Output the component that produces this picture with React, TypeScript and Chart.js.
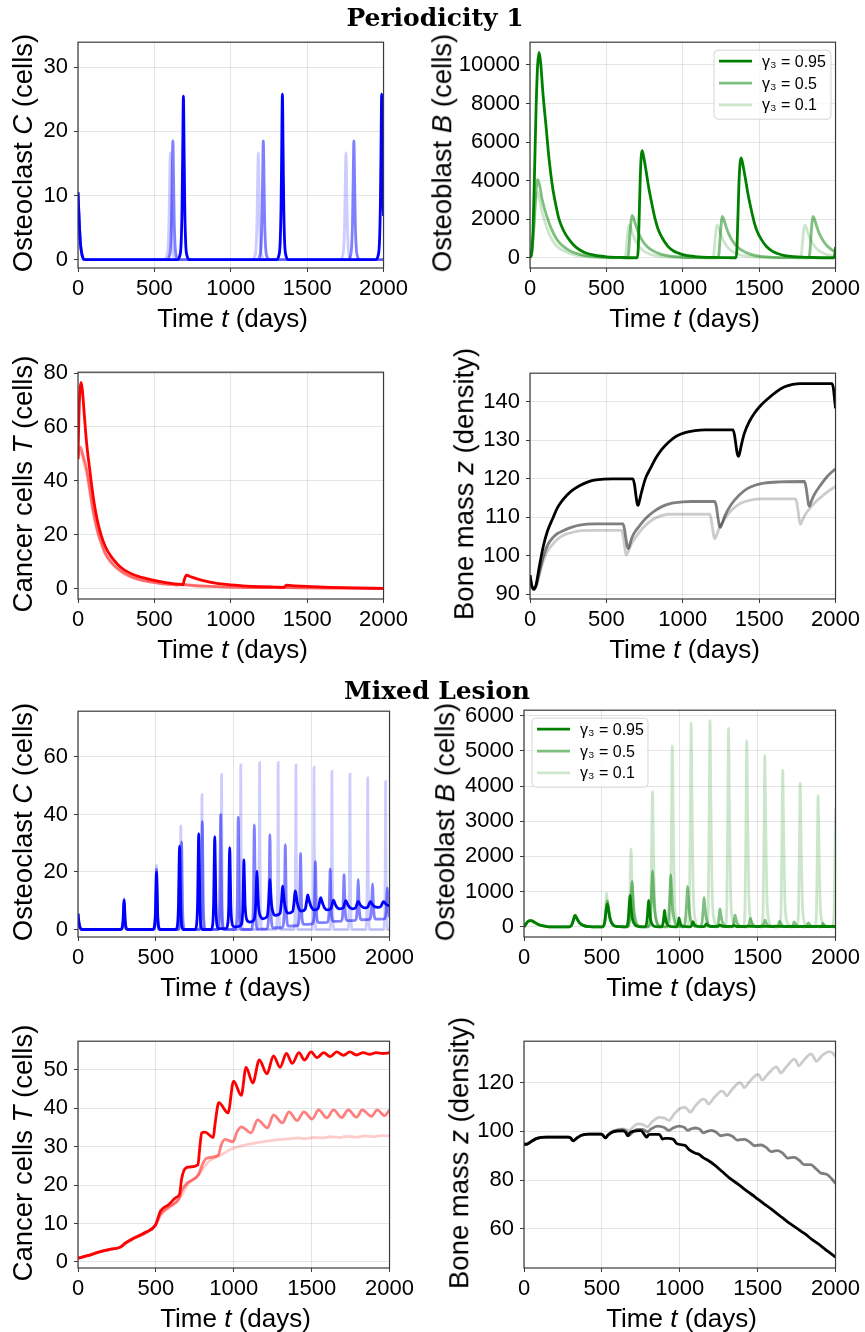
import React, { useEffect, useRef } from "react";
import { Chart, registerables } from "chart.js";

Chart.register(...registerables);

type Pt = [number, number];

// ---------- shared labels / ticks ----------
const GAMMA_LABELS = ["γ₃ = 0.95", "γ₃ = 0.5", "γ₃ = 0.1"];
const ALPHAS = [1, 0.5, 0.2];
const X_TICKS = [0, 500, 1000, 1500, 2000];
const SECTION_TITLES = ["Periodicity 1", "Mixed Lesion"];

// ---------- Periodicity 1 : Osteoclast C ----------
const P1_C_HI: Pt[] = [[0,10.5],[8,6],[16,2.5],[28,0.6],[45,0],
  [650,0],[665,0.5],[675,2.5],[681,8],[685,16],[690,25.5],[695,16],[699,8],[705,2.5],[715,0.5],[730,0],
  [1298,0],[1313,0.5],[1323,2.5],[1329,8],[1333,16],[1338,25.8],[1343,16],[1347,8],[1353,2.5],[1363,0.5],[1378,0],
  [1948,0],[1963,0.5],[1973,2.5],[1979,8],[1983,16],[1988,25.8],[1993,16],[1996.5,9],[2000,6.8]];
const P1_C_MID: Pt[] = [[0,10.5],[8,6],[16,2.5],[28,0.6],[45,0],
  [581,0],[596,0.4],[606,2],[612,6],[616,12],[621,18.5],[626,12],[630,6],[636,2],[646,0.4],[661,0],
  [1173,0],[1188,0.4],[1198,2],[1204,6],[1208,12],[1213,18.5],[1218,12],[1222,6],[1228,2],[1238,0.4],[1253,0],
  [1766,0],[1781,0.4],[1791,2],[1797,6],[1801,12],[1806,18.5],[1811,12],[1815,6],[1821,2],[1831,0.4],[1846,0],[2000,0]];
const P1_C_LO: Pt[] = [[0,10.5],[8,6],[16,2.5],[28,0.6],[45,0],
  [564,0],[579,0.4],[589,1.8],[595,5.5],[599,11],[604,16.7],[609,11],[613,5.5],[619,1.8],[629,0.4],[644,0],
  [1140,0],[1155,0.4],[1165,1.8],[1171,5.5],[1175,11],[1180,16.7],[1185,11],[1189,5.5],[1195,1.8],[1205,0.4],[1220,0],
  [1714,0],[1729,0.4],[1739,1.8],[1745,5.5],[1749,11],[1754,16.7],[1759,11],[1763,5.5],[1769,1.8],[1779,0.4],[1794,0],[2000,0]];

// ---------- Periodicity 1 : Osteoblast B ----------
const P1_B_HI: Pt[] = [[0,0],[10,200],[20,1500],[30,4500],[40,7800],[50,10000],[60,10650],[70,10100],[85,8500],[104,6900],[125,5100],[147,3700],[170,2700],[190,2000],[220,1400],[260,900],[300,550],[350,300],[420,130],[500,50],[600,12],[702,0],
  [708,400],[715,2200],[722,4200],[728,5250],[734,5550],[745,5200],[760,4500],[778,3600],[800,2700],[821,1950],[840,1450],[864,1050],[900,620],[940,350],[972,240],[1020,120],[1080,60],[1200,15],[1348,0],
  [1354,380],[1361,2100],[1368,3900],[1375,4900],[1382,5180],[1393,4850],[1408,4200],[1426,3350],[1448,2500],[1469,1800],[1488,1350],[1512,980],[1548,580],[1588,330],[1620,220],[1668,110],[1728,55],[1850,12],[1990,0],[1995,150],[2000,550]];
const P1_B_MID: Pt[] = [[0,0],[12,300],[25,1600],[38,3300],[50,4050],[62,3800],[80,3000],[108,2200],[140,1500],[180,900],[216,600],[270,320],[324,180],[400,70],[500,20],[600,3],[640,0],
  [646,300],[653,1100],[660,1800],[668,2200],[676,2100],[690,1750],[710,1300],[735,900],[765,600],[800,380],[850,200],[920,80],[1000,25],[1100,5],[1232,0],
  [1238,300],[1245,1100],[1252,1800],[1258,2150],[1266,2050],[1280,1700],[1300,1250],[1325,880],[1355,580],[1390,370],[1440,190],[1510,75],[1600,20],[1700,5],[1826,0],
  [1832,300],[1839,1100],[1846,1800],[1852,2150],[1860,2050],[1874,1700],[1894,1250],[1919,880],[1949,580],[1984,370],[2000,310]];
const P1_B_LO: Pt[] = [[0,0],[12,250],[25,1400],[38,2900],[48,3400],[58,3200],[75,2500],[100,1800],[130,1150],[170,650],[216,380],[270,200],[330,90],[420,25],[520,0],
  [622,0],[628,250],[635,900],[642,1450],[649,1700],[657,1600],[671,1260],[691,870],[716,560],[746,340],[786,180],[840,80],[920,20],[1000,0],
  [1198,0],[1204,250],[1211,900],[1218,1450],[1225,1700],[1233,1600],[1247,1260],[1267,870],[1292,560],[1322,340],[1362,180],[1416,80],[1496,20],[1580,0],
  [1772,0],[1778,250],[1785,900],[1792,1450],[1799,1700],[1807,1600],[1821,1260],[1841,870],[1866,560],[1896,340],[1936,180],[1990,80],[2000,70]];

// ---------- Periodicity 1 : Cancer cells T ----------
const P1_T_HI: Pt[] = [[0,48],[6,64],[12,73],[20,76.5],[28,74],[38,67],[50,58],[62,51],[75,45],[90,38],[108,31],[128,25],[151,20],[180,15.5],[216,12],[260,9],[302,7],[360,5.3],[431,4],[539,2.6],[620,1.9],[688,1.5],[694,3],[703,4.5],[712,5],[740,4.4],[800,3.3],[863,2.5],[950,1.7],[1078,1.1],[1200,0.75],[1294,0.6],[1348,0.5],[1356,1.0],[1368,1.3],[1420,1.1],[1500,0.85],[1650,0.5],[1800,0.3],[2000,0.15]];
const P1_T_MID: Pt[] = [[0,49],[8,52],[17,52.5],[28,50.5],[40,48],[54,45],[75,37.9],[90,32],[108,26.4],[128,21.5],[151,17.3],[180,13],[216,10],[260,7.5],[302,5.8],[360,4.2],[431,3],[539,2],[620,1.5],[650,1.3],[665,1.8],[690,1.6],[760,1.2],[863,0.9],[1000,0.6],[1230,0.4],[1250,0.55],[1320,0.45],[1500,0.3],[1700,0.2],[2000,0.1]];
const P1_T_LO: Pt[] = [[0,48],[8,50.5],[15,51],[28,49],[40,46],[54,43.5],[75,36.5],[90,31],[108,25.5],[128,20.8],[151,16.7],[180,12.5],[216,9.6],[260,7.2],[302,5.5],[360,4],[431,2.9],[539,1.9],[605,1.4],[620,1.7],[650,1.5],[760,1.1],[863,0.85],[1000,0.6],[1180,0.4],[1200,0.5],[1300,0.4],[1500,0.28],[1700,0.18],[2000,0.1]];

// ---------- Periodicity 1 : Bone mass z ----------
const P1_Z_HI: Pt[] = [[0,95],[10,92.5],[25,91.3],[40,92.5],[60,97],[86,102.3],[115,106.5],[151,109.9],[180,112.5],[216,114.6],[270,116.8],[324,118.2],[380,119.2],[432,119.7],[540,120],[674,120],[684,118.5],[694,115.5],[702,113.5],[708,113.1],[716,114.2],[730,116.5],[756,120.1],[790,122.8],[821,125.2],[860,127.5],[907,129.5],[960,131.1],[1015,132],[1080,132.5],[1145,132.7],[1328,132.7],[1338,131.5],[1348,128.8],[1358,126.3],[1365,125.8],[1373,126.8],[1385,129],[1404,131.9],[1435,134.8],[1469,137],[1510,139],[1555,140.7],[1610,142.5],[1663,143.8],[1720,144.5],[1771,144.7],[1976,144.7],[1986,143.5],[1994,140.5],[2000,138.3]];
const P1_Z_MID: Pt[] = [[0,95],[10,92.5],[25,91.3],[40,92.3],[60,95.5],[86,99.7],[115,102.8],[151,104.8],[180,105.8],[216,106.5],[270,107.4],[324,108],[432,108.3],[609,108.3],[618,107],[628,104.5],[637,102.3],[644,101.9],[652,102.8],[668,104.8],[690,106.4],[713,107.6],[760,109.8],[821,111.8],[870,112.9],[929,113.7],[1000,114],[1058,114.1],[1210,114.1],[1220,112.8],[1230,110],[1240,107.8],[1246,107.4],[1256,108.2],[1275,110.3],[1317,113.3],[1370,115.8],[1425,117.5],[1480,118.4],[1533,118.9],[1641,119.2],[1797,119.3],[1806,118],[1816,115.3],[1824,113.2],[1829,112.9],[1838,113.8],[1860,115.8],[1901,118.3],[1950,120.8],[2000,122.6]];
const P1_Z_LO: Pt[] = [[0,95],[10,92.5],[25,91.3],[40,92],[60,94.8],[86,98.5],[115,101.3],[151,103.1],[180,104.3],[216,105.3],[270,106],[324,106.5],[432,106.6],[600,106.6],[609,105.3],[618,102.8],[626,100.7],[631,100.2],[640,100.8],[660,102.8],[691,104.8],[740,107.3],[799,109.3],[850,110.3],[907,110.8],[1177,110.8],[1186,109.5],[1196,106.8],[1205,104.8],[1210,104.4],[1220,105.2],[1240,107.3],[1274,109.5],[1320,111.9],[1382,113.7],[1450,114.5],[1512,114.8],[1739,114.8],[1748,113.5],[1758,110.7],[1766,108.6],[1771,108.2],[1780,109],[1800,110.6],[1836,112.5],[1880,114.4],[1922,115.8],[1960,117],[2000,118]];

// ---------- Mixed Lesion : Osteoclast C ----------
const ML_C_HI: Pt[] = [[0,5.5],[6,2.5],[14,0.6],[25,0],
  [272,0],[283,0.6],[289,3],[292.5,7.1],[296,10.2],[299.5,7.1],[303,3],[309,0.6],[320,0],
  [480,0],[491,1.2],[497,6],[500.5,13.9],[504,19.9],[507.5,13.9],[511,6],[517,1.2],[528,0],
  [628,0],[639,1.7],[645,8.7],[648.5,20.3],[652,29],[655.5,20.3],[659,8.7],[665,1.7],[676,0],
  [751,0],[762,2],[768,10],[771.5,23.3],[775,33.3],[778.5,23.3],[782,10],[788,2],[799,0],
  [854,0],[865,1.9],[871,9.7],[874.5,22.6],[878,32.3],[881.5,22.6],[885,9.7],[891,2],[902,0.3],
  [952,0.4],[962,2.2],[968,8.8],[970.5,20],[974,28.5],[977.5,20],[981,8.8],[988,2.5],[1000,1],[1010,0.9],
  [1045,1.5],[1058,7],[1062,17],[1065,24.2],[1068.5,17],[1073,8],[1088,3],[1103,2.6],
  [1130,3.4],[1141,9],[1145.5,16],[1149,20.3],[1153,15],[1159,8],[1172,4.5],[1187,3.75],
  [1214,4.5],[1224,9.5],[1228.5,14.5],[1232,17.4],[1236,14],[1243,8.5],[1255,5.5],[1267,4.9],
  [1297,5.6],[1306,9.5],[1310.5,13],[1314,15.1],[1318.5,13],[1326,9],[1338,6.3],[1350,5.7],
  [1378,6.3],[1387,9.5],[1391,12],[1395,13.4],[1400,12],[1408,9.2],[1420,7],[1435,6.4],
  [1458,7],[1467,9.5],[1471,11],[1475,12],[1480,11.1],[1488,9.3],[1500,7.6],[1515,6.8],
  [1541,7.3],[1550,9.3],[1554,10.4],[1558,11.1],[1563,10.4],[1571,9],[1583,7.5],[1600,6.8],
  [1624,7.3],[1632,8.9],[1636,9.7],[1640,10.2],[1645,9.7],[1653,8.6],[1665,7.6],[1680,7.2],
  [1703,7.5],[1711,8.9],[1715,9.6],[1719,10],[1724,9.6],[1732,8.6],[1744,7.7],[1763,7.2],
  [1783,7.6],[1791,8.9],[1795,9.5],[1799,9.8],[1804,9.4],[1812,8.6],[1825,7.9],[1843,7.5],
  [1861,7.9],[1869,8.9],[1873,9.4],[1877,9.7],[1882,9.4],[1890,8.7],[1903,8],[1925,7.7],
  [1944,8],[1952,8.9],[1957,9.4],[1962,9.7],[1968,9.4],[1977,8.8],[1990,8.4],[2000,8.3]];
const ML_C_MID: Pt[] = [[0,5.5],[6,2.5],[14,0.6],[25,0],
  [276,0],[285,0.6],[290,3],[293,7.1],[296,10.5],[299,7.1],[302,3],[307,0.6],[316,0],
  [484,0],[493,1.3],[498,5.9],[501,14.3],[504,21],[507,14.3],[510,5.9],[515,1.3],[524,0],
  [645,0],[654,1.8],[659,8.5],[662,20.7],[665,30.5],[668,20.7],[671,8.5],[676,1.8],[685,0],
  [778,0],[787,2.3],[792,10.5],[795,25.6],[798,37.6],[801,25.6],[804,10.5],[809,2.3],[818,0],
  [896,0],[905,2.4],[910,11.2],[913,27.1],[916,39.9],[919,27.1],[922,11.2],[927,2.4],[936,0],
  [1009,0],[1018,2.3],[1023,10.9],[1026,26.5],[1029,39],[1032,26.5],[1035,10.9],[1040,2.3],[1049,0],
  [1112,0],[1121,2.2],[1126,10.2],[1129,24.8],[1132,36.4],[1135,24.8],[1138,10.2],[1143,2.2],[1152,0.1],
  [1212,0.2],[1221,2.2],[1226,9.4],[1229,22.5],[1232,33],[1235,22.5],[1238,9.4],[1243,2.3],[1252,0.6],
  [1311,0.7],[1320,2.4],[1325,8.8],[1328,20.3],[1331,29.5],[1334,20.3],[1337,8.8],[1342,2.7],[1351,1.2],
  [1409,1.4],[1418,2.8],[1423,8.4],[1426,18.5],[1429,26.5],[1432,18.5],[1435,8.4],[1440,3.2],[1449,1.8],
  [1504,2],[1513,3.3],[1518,8.2],[1521,16.6],[1524,23.6],[1527,16.6],[1530,8.2],[1535,3.6],[1544,2.4],
  [1599,2.5],[1608,3.7],[1613,8],[1616,15],[1619,21],[1622,15],[1625,8],[1630,4],[1639,2.8],
  [1688,2.9],[1697,4],[1702,8],[1705,14],[1708,19.1],[1711,14],[1714,8],[1719,4.3],[1728,3.1],
  [1779,3.2],[1788,4.3],[1793,8],[1796,13],[1799,17.4],[1802,13],[1805,8],[1810,4.6],[1819,3.4],
  [1871,3.5],[1880,4.6],[1885,8],[1888,12.2],[1891,15.9],[1894,12.2],[1897,8],[1902,4.8],[1911,3.6],
  [1966,3.7],[1975,4.8],[1980,8],[1983,11.5],[1986,14.5],[1989,11.5],[1992,8],[1997,5],[2000,4.3]];
const ML_C_LO: Pt[] = [[0,5.5],[6,2.5],[14,0.6],[25,0],
  [278,0],[290,2],[293.5,7],[296,10.8],[298.5,7],[302,2],[314,0],
  [486,0],[498,4.5],[501.5,14.6],[504,22.5],[506.5,14.6],[510,4.5],[522,0],
  [645,0],[655,5],[658.3,20],[660,35.9],[661.7,20],[665,5],[675,0],
  [781,0],[791,6.5],[794.3,26],[796,46.9],[797.7,26],[801,6.5],[811,0],
  [907,0],[917,7.5],[920.3,30],[922,53.8],[923.7,30],[927,7.5],[937,0],
  [1030,0],[1040,8],[1043.3,32],[1045,57.2],[1046.7,32],[1050,8],[1060,0],
  [1151,0],[1161,8],[1164.3,32.5],[1166,58],[1167.7,32.5],[1171,8],[1181,0],
  [1270,0],[1280,8],[1283.3,32.5],[1285,58],[1286.7,32.5],[1290,8],[1300,0],
  [1384,0],[1394,8],[1397.3,32],[1399,57.2],[1400.7,32],[1404,8],[1414,0],
  [1500,0],[1510,8],[1513.3,31.5],[1515,56.4],[1516.7,31.5],[1520,8],[1530,0],
  [1615,0],[1625,7.7],[1628.3,31],[1630,55],[1631.7,31],[1635,7.7],[1645,0],
  [1731,0],[1741,7.5],[1744.3,30],[1746,54],[1747.7,30],[1751,7.5],[1761,0],
  [1845,0],[1855,7.4],[1858.3,29.5],[1860,52.7],[1861.7,29.5],[1865,7.4],[1875,0],
  [1960,0],[1970,7.2],[1973.3,29],[1975,51.5],[1976.7,29],[1980,7.2],[1990,0],[2000,0]];

// ---------- Mixed Lesion : Osteoblast B ----------
const ML_B_HI: Pt[] = [[0,0],[10,60],[25,150],[45,176],[70,120],[100,50],[140,15],[180,0],
  [290,0],[305,40],[318,200],[327,325],[338,250],[355,120],[380,40],[420,5],[480,0],
  [505,0],[518,120],[528,480],[535,650],[542,500],[552,240],[568,70],[590,10],[640,0],
  [655,0],[668,150],[676,640],[681,890],[686,640],[694,280],[710,70],[735,8],[770,0],
  [778,0],[789,150],[796,520],[800,750],[805,520],[812,220],[826,50],[850,5],[880,0],
  [883,0],[893,110],[899,330],[902,464],[906,330],[913,140],[926,30],[950,3],[975,0],
  [980,0],[988,70],[993,180],[995,250],[999,180],[1006,70],[1020,15],[1045,2],[1065,0],
  [1070,5],[1078,60],[1082,115],[1084,148],[1088,115],[1095,55],[1110,15],[1140,3],
  [1158,10],[1166,55],[1171,83],[1176,60],[1185,25],[1205,8],
  [1245,10],[1253,38],[1258,55],[1263,40],[1272,18],[1290,8],
  [1335,10],[1343,28],[1347,37],[1352,28],[1362,14],[1380,8],
  [1425,9],[1433,20],[1437,25],[1442,20],[1455,10],
  [1515,9],[1523,18],[1527,22],[1532,18],[1545,10],
  [1605,9],[1613,17],[1617,20],[1622,17],[1635,10],
  [1700,9],[1710,18],[1720,9],[1790,9],[1800,17],[1810,9],[1880,9],[1890,16],[1900,9],[1970,9],[1980,15],[1990,9],[2000,9]];
const ML_B_MID: Pt[] = [[0,0],[10,60],[25,150],[45,176],[70,120],[100,50],[140,15],[180,0],
  [290,0],[305,40],[318,200],[327,325],[338,250],[355,120],[380,40],[420,5],[480,0],
  [505,0],[518,140],[528,540],[535,733],[542,560],[552,270],[568,80],[590,10],[645,0],
  [668,0],[680,250],[689,950],[694,1290],[699,950],[707,420],[722,100],[745,10],[780,0],
  [800,0],[812,300],[821,1150],[825,1586],[830,1150],[838,520],[853,120],[875,15],[905,0],
  [917,0],[929,280],[938,1080],[942,1475],[947,1080],[955,480],[970,110],[992,12],[1020,0],
  [1026,0],[1037,220],[1046,850],[1050,1150],[1055,850],[1063,380],[1078,90],[1100,12],[1130,0],
  [1133,0],[1144,160],[1152,600],[1156,826],[1161,600],[1169,270],[1184,65],[1205,10],[1235,0],
  [1236,0],[1247,100],[1254,370],[1258,510],[1263,370],[1271,170],[1286,45],[1310,8],[1333,0],
  [1334,0],[1345,65],[1351,240],[1355,334],[1360,240],[1368,110],[1383,30],[1410,6],[1432,0],
  [1433,0],[1444,50],[1449,175],[1453,241],[1458,175],[1466,80],[1481,22],[1510,5],[1527,0],
  [1528,0],[1539,40],[1544,135],[1548,186],[1553,135],[1561,62],[1576,18],[1605,4],[1620,0],
  [1621,0],[1632,35],[1637,115],[1641,158],[1646,115],[1654,52],[1669,15],[1700,3],[1714,0],
  [1715,0],[1726,30],[1731,100],[1735,140],[1740,100],[1748,46],[1763,13],[1792,3],[1805,0],
  [1806,0],[1817,25],[1822,80],[1826,111],[1831,80],[1839,37],[1854,11],[1885,2],[1898,0],
  [1899,0],[1910,20],[1915,68],[1919,93],[1924,68],[1932,31],[1947,9],[1975,2],[2000,0]];
const ML_B_LO: Pt[] = [[0,0],[10,60],[25,150],[45,176],[70,120],[100,50],[140,15],[180,0],
  [290,0],[305,40],[318,200],[327,325],[338,250],[355,120],[380,40],[420,5],[480,0],
  [505,0],[518,170],[525,650],[530,965],[536,700],[546,320],[562,90],[585,10],[640,0],
  [665,0],[676,300],[683,1500],[687,2217],[692,1500],[700,550],[714,120],[735,10],[770,0],
  [802,0],[813,400],[820,2500],[825,3840],[830,2500],[838,800],[852,150],[875,12],[910,0],
  [930,0],[941,500],[948,3400],[952,5140],[957,3400],[965,1000],[979,180],[1000,15],[1035,0],
  [1051,0],[1062,550],[1069,3800],[1073,5790],[1078,3800],[1086,1100],[1100,190],[1121,15],[1155,0],
  [1172,0],[1183,560],[1190,3850],[1194,5860],[1199,3850],[1207,1120],[1221,190],[1242,15],[1275,0],
  [1291,0],[1302,540],[1309,3700],[1313,5640],[1318,3700],[1326,1080],[1340,185],[1361,15],[1392,0],
  [1408,0],[1419,510],[1426,3470],[1430,5280],[1435,3470],[1443,1010],[1457,175],[1478,15],[1508,0],
  [1524,0],[1535,470],[1542,3200],[1546,4860],[1551,3200],[1559,930],[1573,160],[1594,14],[1623,0],
  [1639,0],[1650,430],[1657,2930],[1661,4450],[1666,2930],[1674,850],[1688,150],[1709,13],[1735,0],
  [1751,0],[1762,400],[1769,2680],[1773,4080],[1778,2680],[1786,780],[1800,140],[1821,12],[1850,0],
  [1866,0],[1877,360],[1884,2450],[1888,3730],[1893,2450],[1901,720],[1915,130],[1936,11],[1965,0],
  [1980,0],[1990,350],[1996,2000],[2000,3360]];

// ---------- Mixed Lesion : Cancer cells T ----------
const ML_T_HI: Pt[] = [[0,1],[60,1.6],[138,2.6],[200,3.2],[275,3.9],[300,4.8],[349,6],[400,7],[434,7.7],[497,9.6],[510,11],[529,13.2],[582,14.9],[630,16.8],[652,17.6],[665,21.5],[680,23.8],[709,24.7],[770,25.3],[780,29],[794,33.6],[815,33.8],[868,32.4],[880,36],[904,41.5],[963,38.8],[999,47.1],[1048,43.4],[1079,50.7],[1122,46.6],[1164,52.6],[1213,49],[1255,53.7],[1297,50.7],[1338,54.3],[1376,51.7],[1418,54.5],[1454,52.6],[1496,54.7],[1534,53.2],[1577,54.5],[1619,53.5],[1661,54.7],[1704,53.8],[1746,54.7],[1788,53.9],[1831,54.5],[1873,54.1],[1915,54.5],[1958,54.3],[2000,54.5]];
const ML_T_MID: Pt[] = [[0,1],[60,1.6],[138,2.6],[200,3.2],[275,3.9],[300,4.7],[349,5.9],[400,6.9],[434,7.6],[497,9.5],[529,12.4],[582,14.3],[646,16.4],[665,18.5],[698,20.4],[772,22.6],[800,25.5],[825,27],[899,27.7],[920,30.5],[942,31.9],[995,31.3],[1020,33.8],[1048,35.2],[1111,33.6],[1153,37],[1217,34.9],[1255,38.3],[1312,36.2],[1354,39.1],[1407,36.8],[1450,39.1],[1503,37.2],[1545,39.6],[1598,37.5],[1640,39.6],[1693,37.6],[1735,39.6],[1788,37.7],[1825,39.6],[1884,37.9],[1921,39.6],[1968,38.1],[2000,39.6]];
const ML_T_LO: Pt[] = [[0,1],[60,1.6],[138,2.6],[200,3.2],[275,3.9],[300,4.6],[349,5.8],[400,6.8],[434,7.5],[497,9.4],[529,12],[582,14],[646,16],[709,20.4],[772,22.6],[836,26],[921,27.9],[984,29.4],[1069,30.4],[1153,31.1],[1259,31.7],[1365,32.1],[1420,32.3],[1450,32.1],[1513,32.4],[1570,32.3],[1620,32.6],[1680,32.4],[1725,32.7],[1780,32.5],[1840,32.8],[1900,32.6],[1950,32.9],[2000,32.8]];

// ---------- Mixed Lesion : Bone mass z ----------
const ML_Z_HI: Pt[] = [[0,94.7],[20,94.8],[50,96],[83,97.1],[146,97.6],[284,97.6],[300,97.2],[316,96.1],[335,97],[369,98.4],[422,98.9],[496,98.9],[508,98.3],[522,97.3],[540,98.5],[571,99.8],[634,100.2],[652,99.6],[666,98.2],[680,99.4],[698,100],[751,100.3],[770,99],[787,97.6],[800,98.6],[814,98.8],[867,98.8],[878,98],[888,96.8],[905,97.1],[930,97.1],[950,96.9],[962,96.5],[980,95],[994,94.7],[1020,94.4],[1037,94.1],[1060,92.5],[1079,91.7],[1100,91],[1122,90.6],[1150,89.2],[1185,87.9],[1220,86.3],[1270,83.6],[1320,80.8],[1376,78.2],[1430,75.5],[1482,73.1],[1535,70.5],[1588,68],[1640,65.4],[1694,62.7],[1750,60.2],[1800,58],[1850,55.5],[1906,52.9],[1950,50.7],[2000,48.3]];
const ML_Z_MID: Pt[] = [[0,94.7],[20,94.8],[50,96],[83,97.1],[146,97.6],[284,97.6],[300,97.2],[316,96.1],[335,97],[369,98.4],[422,98.9],[496,98.9],[508,98.3],[522,97.3],[540,98.6],[571,100],[634,100.7],[655,100],[676,98.4],[700,99.8],[729,100.8],[760,100.8],[780,100.2],[793,99.8],[814,100.9],[857,102.2],[900,101.6],[930,100.4],[960,101.5],[994,102.2],[1030,101.6],[1051,100.4],[1075,101.1],[1100,101.4],[1130,100.8],[1152,99.4],[1175,100],[1205,100.4],[1235,99.6],[1262,98.2],[1285,98.5],[1310,98.7],[1340,97.9],[1369,96.4],[1390,96.6],[1416,96.7],[1450,95.6],[1480,94.1],[1500,94.3],[1522,94.4],[1555,93.4],[1586,91.7],[1605,91.9],[1629,92.1],[1662,91],[1693,89],[1712,89.2],[1735,89.3],[1768,88.1],[1799,86.3],[1820,86.3],[1841,86.3],[1875,84.6],[1905,82.9],[1925,82.6],[1948,82.2],[1975,80.5],[2000,78.5]];
const ML_Z_LO: Pt[] = [[0,94.7],[20,94.8],[50,96],[83,97.1],[146,97.6],[284,97.6],[300,97.2],[316,96.1],[335,97],[369,98.4],[422,98.9],[496,98.9],[508,98.3],[522,97.3],[540,98.6],[571,100],[613,100.9],[640,101],[662,100.6],[676,100.4],[700,101.8],[729,103.1],[760,102.9],[780,102.2],[793,101.8],[820,103.8],[867,105.8],[905,105.4],[930,104.5],[965,107.2],[1003,109.5],[1035,109.9],[1050,109],[1067,107.9],[1100,110.5],[1152,113.3],[1170,112.5],[1183,111.2],[1220,113.8],[1268,116.6],[1285,116],[1300,114.6],[1335,117.2],[1385,120],[1400,119.3],[1413,118],[1450,120.6],[1502,123.4],[1515,122.5],[1528,121.1],[1565,123.5],[1620,126.5],[1633,125.5],[1647,124],[1685,126.6],[1737,129.7],[1750,128.6],[1762,127],[1800,129.6],[1843,131.9],[1860,130.5],[1875,128.8],[1915,131.3],[1960,132.8],[1980,132.3],[2000,130.8]];

// ---------- y tick lists ----------
const Y_TICKS_P1_C = [0, 10, 20, 30];
const Y_TICKS_P1_B = [0, 2000, 4000, 6000, 8000, 10000];
const Y_TICKS_P1_T = [0, 20, 40, 60, 80];
const Y_TICKS_P1_Z = [90, 100, 110, 120, 130, 140];
const Y_TICKS_ML_C = [0, 20, 40, 60];
const Y_TICKS_ML_B = [0, 1000, 2000, 3000, 4000, 5000, 6000];
const Y_TICKS_ML_T = [0, 10, 20, 30, 40, 50];
const Y_TICKS_ML_Z = [60, 80, 100, 120];

const FONT = '"Liberation Sans", Arial, Helvetica, sans-serif';

interface PanelCfg {
  plot: { l: number; t: number; r: number; b: number };
  yMin: number;
  yMax: number;
  yTicks: number[];
  rgb: string;
  series: Pt[][];
  legend?: { x: number; y: number; w: number; h: number };
  yTitle: [string, string, string];
  yTitleX: number;
}

const PANELS: PanelCfg[] = [
  { plot: { l: 78, t: 38, r: 387, b: 268 }, yMin: -1.3, yMax: 33.9, yTicks: Y_TICKS_P1_C, rgb: "0,0,255",
    series: [P1_C_HI, P1_C_MID, P1_C_LO], yTitle: ["Osteoclast ", "C", " (cells)"], yTitleX: 23 },
  { plot: { l: 530, t: 38, r: 839, b: 268 }, yMin: -532, yMax: 11182, yTicks: Y_TICKS_P1_B, rgb: "0,128,0",
    series: [P1_B_HI, P1_B_MID, P1_B_LO], legend: { x: 184, y: 8, w: 117, h: 69 },
    yTitle: ["Osteoblast ", "B", " (cells)"], yTitleX: 442 },
  { plot: { l: 78, t: 368, r: 387, b: 599 }, yMin: -3.8, yMax: 80.3, yTicks: Y_TICKS_P1_T, rgb: "255,0,0",
    series: [P1_T_HI, P1_T_MID, P1_T_LO], yTitle: ["Cancer cells ", "T", " (cells)"], yTitleX: 23 },
  { plot: { l: 530, t: 369, r: 839, b: 599 }, yMin: 88.8, yMax: 147.4, yTicks: Y_TICKS_P1_Z, rgb: "0,0,0",
    series: [P1_Z_HI, P1_Z_MID, P1_Z_LO], yTitle: ["Bone mass ", "z", " (density)"], yTitleX: 464 },
  { plot: { l: 78, t: 707, r: 393, b: 937 }, yMin: -2.6, yMax: 75.9, yTicks: Y_TICKS_ML_C, rgb: "0,0,255",
    series: [ML_C_HI, ML_C_MID, ML_C_LO], yTitle: ["Osteoclast ", "C", " (cells)"], yTitleX: 23 },
  { plot: { l: 524, t: 706, r: 839, b: 937 }, yMin: -290, yMax: 6155, yTicks: Y_TICKS_ML_B, rgb: "0,128,0",
    series: [ML_B_HI, ML_B_MID, ML_B_LO], legend: { x: 8, y: 8, w: 116, h: 69 },
    yTitle: ["Osteoblast ", "B", " (cells)"], yTitleX: 445 },
  { plot: { l: 78, t: 1037, r: 393, b: 1268 }, yMin: -1.6, yMax: 57.5, yTicks: Y_TICKS_ML_T, rgb: "255,0,0",
    series: [ML_T_HI, ML_T_MID, ML_T_LO], yTitle: ["Cancer cells ", "T", " (cells)"], yTitleX: 23 },
  { plot: { l: 524, t: 1037, r: 839, b: 1268 }, yMin: 43.8, yMax: 137.1, yTicks: Y_TICKS_ML_Z, rgb: "0,0,0",
    series: [ML_Z_HI, ML_Z_MID, ML_Z_LO], yTitle: ["Bone mass ", "z", " (density)"], yTitleX: 459 },
];

const PAD_L = 75;
const PAD_R = 25;
const PAD_T = 15;
const PAD_B = 36;

function Panel({ cfg }: { cfg: PanelCfg }) {
  const ref = useRef<HTMLCanvasElement>(null);
  const W = cfg.plot.r - cfg.plot.l + PAD_L + PAD_R;
  const H = cfg.plot.b - cfg.plot.t + PAD_T + PAD_B;

  useEffect(() => {
    if (!ref.current) return;
    const framePlugin = {
      id: "frameLegend",
      afterDraw(chart: any) {
        const { ctx, chartArea: a } = chart;
        ctx.save();
        if (cfg.legend) {
          const L = cfg.legend;
          const bx = a.left + L.x;
          const by = a.top + L.y;
          ctx.beginPath();
          if ((ctx as any).roundRect) (ctx as any).roundRect(bx, by, L.w, L.h, 4);
          else ctx.rect(bx, by, L.w, L.h);
          ctx.fillStyle = "rgba(255,255,255,0.8)";
          ctx.fill();
          ctx.strokeStyle = "rgba(204,204,204,0.8)";
          ctx.lineWidth = 1;
          ctx.stroke();
          const rows = [11, 33, 54.7];
          chart.data.datasets.forEach((ds: any, i: number) => {
            const y = by + rows[i];
            ctx.beginPath();
            ctx.strokeStyle = ds.borderColor;
            ctx.lineWidth = ds.borderWidth;
            ctx.moveTo(bx + 5, y);
            ctx.lineTo(bx + 38, y);
            ctx.stroke();
            ctx.fillStyle = "#000";
            ctx.font = `16px ${FONT}`;
            ctx.textBaseline = "middle";
            ctx.textAlign = "left";
            ctx.fillText(ds.label, bx + 48, y + 1);
          });
        }
        ctx.strokeStyle = "#3a3a3a";
        ctx.lineWidth = 1.2;
        ctx.strokeRect(a.left, a.top, a.right - a.left, a.bottom - a.top);
        ctx.restore();
      },
    };

    const tickFont = { family: FONT, size: 22 };
    const chart = new Chart(ref.current, {
      type: "line",
      data: {
        datasets: cfg.series.map((s, i) => ({
          label: GAMMA_LABELS[i],
          data: s.map(([x, y]) => ({ x, y })),
          borderColor: `rgba(${cfg.rgb},${ALPHAS[i]})`,
          backgroundColor: `rgba(${cfg.rgb},${ALPHAS[i]})`,
          borderWidth: 2.8,
          pointRadius: 0,
          fill: false,
          cubicInterpolationMode: "monotone",
        })),
      },
      options: {
        responsive: false,
        animation: false,
        events: [],
        layout: { padding: { left: 0, right: PAD_R, top: PAD_T, bottom: 0 } },
        plugins: { legend: { display: false }, tooltip: { enabled: false } },
        scales: {
          x: {
            type: "linear",
            min: 0,
            max: 2000,
            afterBuildTicks: (s: any) => {
              s.ticks = X_TICKS.map((v) => ({ value: v }));
            },
            afterFit: (s: any) => {
              s.height = PAD_B;
            },
            grid: { color: "rgba(0,0,0,0.1)", lineWidth: 1, tickLength: 4, tickColor: "#3a3a3a", tickWidth: 1 },
            border: { display: false },
            ticks: { font: tickFont, color: "#000", padding: 4, maxRotation: 0, autoSkip: false, callback: (v: any) => String(v) },
          },
          y: {
            type: "linear",
            min: cfg.yMin,
            max: cfg.yMax,
            afterBuildTicks: (s: any) => {
              s.ticks = cfg.yTicks.map((v) => ({ value: v }));
            },
            afterFit: (s: any) => {
              s.width = PAD_L;
            },
            grid: { color: "rgba(0,0,0,0.1)", lineWidth: 1, tickLength: 4, tickColor: "#3a3a3a", tickWidth: 1 },
            border: { display: false },
            ticks: { font: tickFont, color: "#000", padding: 6, autoSkip: false, callback: (v: any) => String(v) },
          },
        },
      },
      plugins: [framePlugin],
    } as any);
    return () => chart.destroy();
  }, []);

  return (
    <canvas
      ref={ref}
      width={W}
      height={H}
      style={{ position: "absolute", left: cfg.plot.l - PAD_L, top: cfg.plot.t - PAD_T, width: W, height: H }}
    />
  );
}

const labelStyle: React.CSSProperties = {
  position: "absolute",
  fontFamily: FONT,
  whiteSpace: "nowrap",
  color: "#000",
  lineHeight: 1,
};

export default function App() {
  return (
    <div style={{ position: "absolute", left: 0, top: 0, width: 865, height: 1332, background: "#fff", overflow: "hidden" }}>
      {PANELS.map((p, i) => (
        <Panel key={i} cfg={p} />
      ))}
      {PANELS.map((p, i) => (
        <div
          key={"x" + i}
          style={{ ...labelStyle, fontSize: 26, left: (p.plot.l + p.plot.r) / 2, top: p.plot.b + 50, transform: "translate(-50%, -50%)" }}
        >
          Time <i>t</i> (days)
        </div>
      ))}
      {PANELS.map((p, i) => (
        <div
          key={"y" + i}
          style={{ ...labelStyle, fontSize: 27.5, left: p.yTitleX, top: (p.plot.t + p.plot.b) / 2, transform: "translate(-50%, -50%) rotate(-90deg)" }}
        >
          {p.yTitle[0]}
          <i>{p.yTitle[1]}</i>
          {p.yTitle[2]}
        </div>
      ))}
      <div style={{ position: "absolute", left: 435, top: 17, transform: "translate(-50%, -50%)", font: 'bold 25px "DejaVu Serif", serif', whiteSpace: "nowrap", lineHeight: 1 }}>
        {SECTION_TITLES[0]}
      </div>
      <div style={{ position: "absolute", left: 437, top: 690, transform: "translate(-50%, -50%)", font: 'bold 25px "DejaVu Serif", serif', whiteSpace: "nowrap", lineHeight: 1 }}>
        {SECTION_TITLES[1]}
      </div>
    </div>
  );
}
